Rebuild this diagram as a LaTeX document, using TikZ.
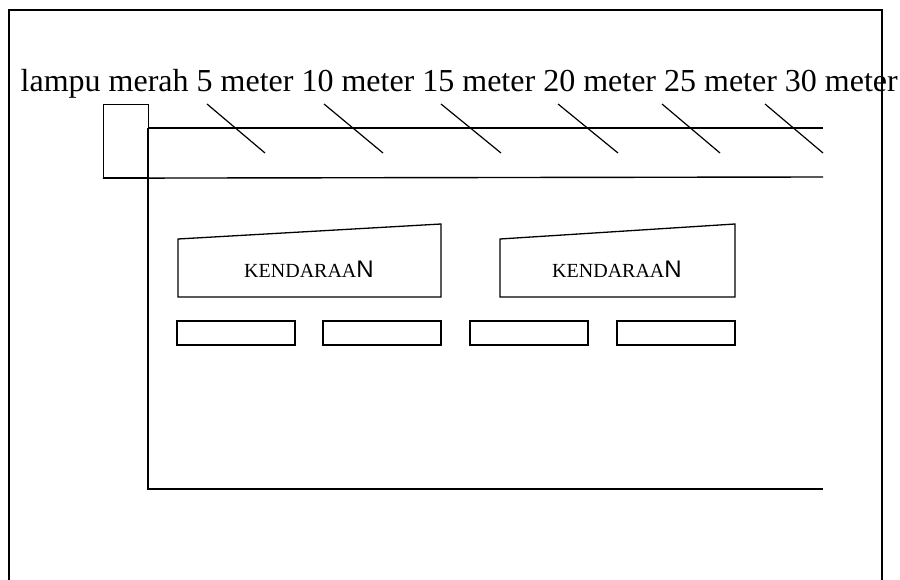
\documentclass[tikz,border=0pt]{standalone}
\usepackage{fontspec}
\setmainfont{Liberation Serif}
\newfontfamily\nfont{Liberation Sans}
\newcommand{\vehicletext}{KENDARAA{\nfont\fontsize{24}{26}\selectfont N}}
\begin{document}
\begin{tikzpicture}[x=1pt,y=-1pt,line width=1.4pt,
  part/.style={draw,line width=1.3pt},
  label/.style={inner sep=0pt,anchor=base west,font=\fontsize{32}{34}\selectfont},
  vlabel/.style={inner sep=0pt,anchor=base,font=\fontsize{20}{22}\selectfont}]
\useasboundingbox (0,0) rectangle (900,580);
% outer frame, open at the bottom
\draw (9,580) -- (9,10) -- (882,10) -- (882,580);
% heading text
\node[label] (head) at (20,92) {lampu merah 5 meter 10 meter 15 meter 20 meter 25 meter 30 meter};
% traffic light
\node[part,minimum width=45pt,minimum height=73pt,inner sep=0pt] (lamp) at (126,141) {};
% road
\draw (lamp.east |- 0,128) -- (823,128);
\draw (lamp.south west) -- (823,177);
\draw (148,128) -- (148,489) -- (823,489);
% distance marks
\foreach \a/\b in {207/265,324/383,441/501,558/618,662/720,765/823}
  \draw[line width=1.2pt] (\a,104) -- (\b,153);
% vehicles
\draw[part] (178,239) -- (441,224) -- (441,297) -- (178,297) -- cycle;
\node[vlabel] (car1) at (309,277) {\vehicletext};
\draw[part] (500,239) -- (735,224) -- (735,297) -- (500,297) -- cycle;
\node[vlabel] (car2) at (617,277) {\vehicletext};
% wheels / parts below the vehicles
\node[part,minimum width=118pt,minimum height=24pt,inner sep=0pt] (r1) at (236,333) {};
\node[part,minimum width=118pt,minimum height=24pt,inner sep=0pt] (r2) at (382,333) {};
\node[part,minimum width=118pt,minimum height=24pt,inner sep=0pt] (r3) at (529,333) {};
\node[part,minimum width=118pt,minimum height=24pt,inner sep=0pt] (r4) at (676,333) {};
\end{tikzpicture}
\end{document}
